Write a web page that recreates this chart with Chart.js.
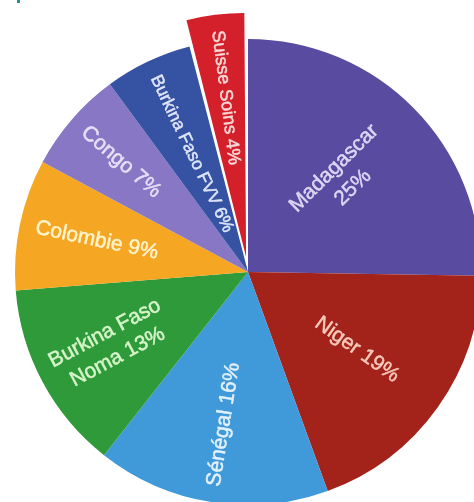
<!DOCTYPE html>
<html>
<head>
<meta charset="utf-8">
<script src="https://cdn.jsdelivr.net/npm/chart.js@4/dist/chart.umd.min.js"></script>
<style>
  html, body { margin: 0; padding: 0; background: #fff; overflow: hidden; }
  #wrap { position: relative; width: 474px; height: 502px; overflow: hidden; }
  #shareChart { position: absolute; left: 0; top: 0; }
  #tab { position: absolute; left: 17px; top: 0; width: 3px; height: 3px; background: #2b8c99; }
</style>
</head>
<body>
<div id="wrap">
  <canvas id="shareChart" width="496" height="544"></canvas>
  <div id="tab"></div>
</div>
<script>
const categories = ['Madagascar', 'Niger', 'Sénégal', 'Burkina Faso Noma', 'Colombie', 'Congo', 'Burkina Faso FVV', 'Suisse Soins'];
const shares = [25, 19, 16, 13, 9, 7, 6, 4];
const sliceColors = ['#594ba0', '#a3231b', '#409ad9', '#2f9a39', '#f5a623', '#8777c4', '#3552a3', '#d3202a'];
const textColors = ['#ddd6f4', '#f7cabb', '#e3f1fb', '#d6f5cb', '#fff4cc', '#e6dff7', '#dfe5f8', '#fad8d8'];
const pulled = [0, 0, 0, 0, 0, 0, 0, 60];
const fontSizes = [21, 21, 21, 21, 21, 21, 17.5, 18];

function labelLines(name, v) {
  if (name === 'Madagascar') return [name, v + '%'];
  if (name === 'Burkina Faso Noma') return ['Burkina Faso', 'Noma ' + v + '%'];
  return [name + ' ' + v + '%'];
}

// labels written along each slice's bisector, reading outward on the right, inward on the left
const radialLabels = {
  id: 'radialLabels',
  afterDatasetsDraw(chart) {
    const ctx = chart.ctx;
    const arcs = chart.getDatasetMeta(0).data;
    arcs.forEach((arc, i) => {
      const p = arc.getProps(['x', 'y', 'startAngle', 'endAngle', 'outerRadius', 'circumference']);
      const mid = (p.startAngle + p.endAngle) / 2;
      const off = (arc.options.offset || 0) / 4;
      const shift = off * (2 - Math.sin(Math.min(Math.PI, p.circumference)));
      const lines = labelLines(categories[i], shares[i]);
      const size = fontSizes[i];
      ctx.save();
      ctx.font = size + 'px "Liberation Sans", Arial, sans-serif';
      const w = Math.max(...lines.map(l => ctx.measureText(l).width));
      const outward = Math.cos(mid) >= 0;
      const r = outward ? p.outerRadius * 0.575 : p.outerRadius - 16 - w / 2;
      const cx = p.x + Math.cos(mid) * (shift + r);
      const cy = p.y + Math.sin(mid) * (shift + r);
      ctx.translate(cx, cy);
      ctx.rotate(outward ? mid : mid + Math.PI);
      ctx.fillStyle = textColors[i];
      ctx.strokeStyle = textColors[i];
      ctx.lineWidth = 0.5;
      ctx.textAlign = 'center';
      ctx.textBaseline = 'middle';
      const lh = 27;
      lines.forEach((l, k) => {
        const ty = (k - (lines.length - 1) / 2) * lh;
        ctx.fillText(l, 0, ty);
        ctx.strokeText(l, 0, ty);
      });
      ctx.restore();
    });
  }
};

new Chart(document.getElementById('shareChart'), {
  type: 'pie',
  data: {
    labels: categories,
    datasets: [{
      data: shares,
      backgroundColor: sliceColors,
      borderWidth: 0,
      offset: pulled,
      hoverOffset: 0,
      radius: 233
    }]
  },
  options: {
    responsive: false,
    devicePixelRatio: 1,
    animation: false,
    layout: { padding: 0 },
    plugins: {
      legend: { display: false },
      tooltip: { enabled: false }
    }
  },
  plugins: [radialLabels]
});
</script>
</body>
</html>
